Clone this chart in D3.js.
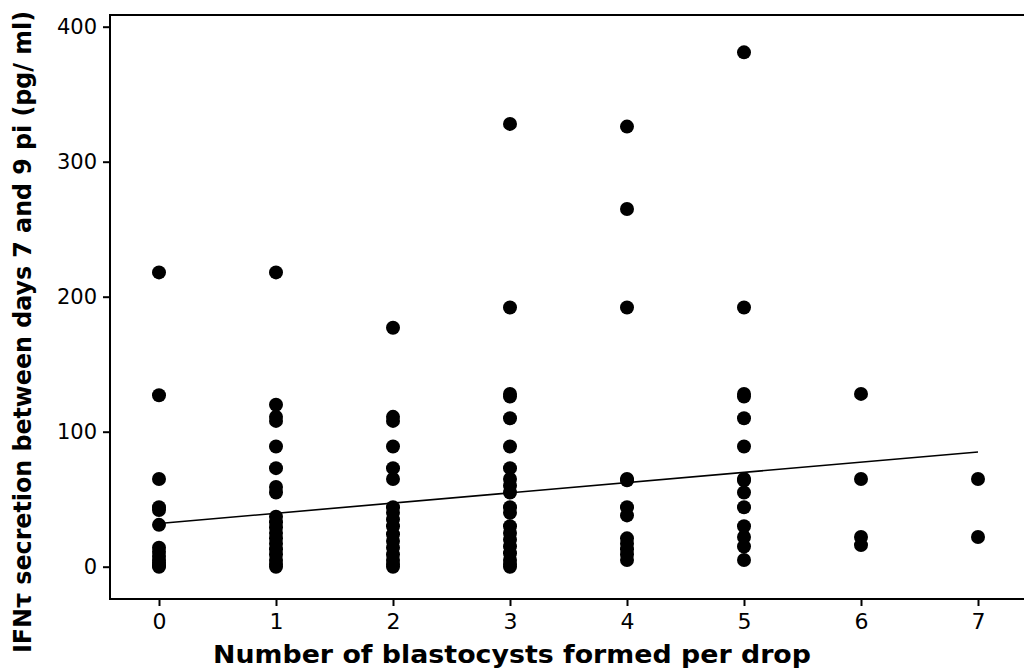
<!DOCTYPE html>
<html>
<head>
<meta charset="utf-8">
<script src="https://cdn.jsdelivr.net/npm/d3@7"></script>
<style>
    body { margin: 0; background: white; }
    text { fill: black; }
</style>
</head>
<body>
<div id="chart"></div>
<script>
// blastocyst count per drop (x categories)
const blastocysts = [0, 1, 2, 3, 4, 5, 6, 7];

// IFN-tau secretion (pg/ml) for the drops in each category
const secretion0 = [218, 127, 65, 44, 42, 31, 14, 11, 8, 5, 3, 1, 0];
const secretion1 = [218, 120, 111, 108, 89, 73, 59, 55, 37, 33, 29, 25, 21, 17, 13, 9, 5, 2, 0];
const secretion2 = [177, 111, 108, 89, 73, 65, 44, 40, 35, 30, 24, 19, 14, 9, 5, 2, 0];
const secretion3 = [328, 192, 128, 126, 110, 89, 73, 65, 60, 55, 44, 40, 30, 25, 20, 15, 10, 5, 2, 0];
const secretion4 = [326, 265, 192, 65, 64, 44, 38, 21, 17, 13, 9, 5];
const secretion5 = [381, 192, 128, 126, 110, 89, 65, 64, 55, 44, 30, 22, 15, 5];
const secretion6 = [128, 65, 22, 16];
const secretion7 = [65, 22];
const secretionByCount = [secretion0, secretion1, secretion2, secretion3,
    secretion4, secretion5, secretion6, secretion7];

// fitted regression line end points
const fitX = [0, 7];
const fitY = [32, 85];

const yTicks = [0, 100, 200, 300, 400];

const width = 1024;
const height = 669;

const svg = d3.select('#chart')
    .append('svg')
    .attr('width', width)
    .attr('height', height);

const x = d3.scaleLinear()
    .domain([0, 7])
    .range([159, 978]);

const y = d3.scaleLinear()
    .domain([0, 400])
    .range([566.7, 26.7]);

const frameLeft = 110;
const frameTop = 15;
const frameBottom = 599;

// points
let points = [];
secretionByCount.forEach((vals, i) => {
    vals.forEach(v => points.push({n: blastocysts[i], v: v}));
});

svg.selectAll('.dot')
    .data(points)
    .join('circle')
    .attr('cx', d => x(d.n))
    .attr('cy', d => y(d.v))
    .attr('r', 7)
    .style('fill', 'black')
    .classed('dot', true);

// regression line
svg.append('line')
    .attr('x1', x(fitX[0]))
    .attr('y1', y(fitY[0]))
    .attr('x2', x(fitX[1]))
    .attr('y2', y(fitY[1]))
    .attr('stroke', 'black')
    .attr('stroke-width', 1.6);

// frame: left, top, bottom
svg.append('path')
    .attr('d', `M${width},${frameTop}H${frameLeft}V${frameBottom}H${width}`)
    .attr('fill', 'none')
    .attr('stroke', 'black')
    .attr('stroke-width', 2);

// x axis
const xAxis = d3.axisBottom(x)
    .tickValues(blastocysts)
    .tickFormat(d3.format('d'))
    .tickSize(7)
    .tickSizeOuter(0)
    .tickPadding(7);

const xg = svg.append('g')
    .attr('transform', `translate(0, ${frameBottom})`)
    .call(xAxis);
xg.select('.domain').remove();
xg.selectAll('line').attr('stroke-width', 2);
xg.selectAll('text')
    .style('font-family', 'DejaVu Sans, sans-serif')
    .style('font-size', '22px');

// y axis
const yAxis = d3.axisLeft(y)
    .tickValues(yTicks)
    .tickSize(7)
    .tickSizeOuter(0)
    .tickPadding(6);

const yg = svg.append('g')
    .attr('transform', `translate(${frameLeft}, 0)`)
    .call(yAxis);
yg.select('.domain').remove();
yg.selectAll('line').attr('stroke-width', 2);
yg.selectAll('text')
    .style('font-family', 'DejaVu Sans, sans-serif')
    .style('font-size', '21px');

// axis titles
svg.append('text')
    .attr('x', 512)
    .attr('y', 663)
    .attr('text-anchor', 'middle')
    .attr('textLength', 598)
    .attr('lengthAdjust', 'spacingAndGlyphs')
    .style('font-family', 'DejaVu Sans, sans-serif')
    .style('font-weight', 'bold')
    .style('font-size', '25px')
    .text('Number of blastocysts formed per drop');

svg.append('text')
    .attr('transform', 'translate(31, 332) rotate(-90)')
    .attr('text-anchor', 'middle')
    .attr('textLength', 642)
    .attr('lengthAdjust', 'spacingAndGlyphs')
    .style('font-family', 'DejaVu Sans, sans-serif')
    .style('font-weight', 'bold')
    .style('font-size', '24px')
    .text('IFNτ secretion between days 7 and 9 pi (pg/ ml)');
</script>
</body>
</html>
